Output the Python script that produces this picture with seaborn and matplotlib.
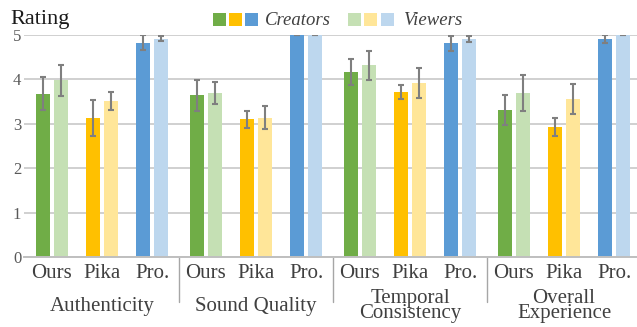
import matplotlib
matplotlib.use("Agg")
import matplotlib.pyplot as plt
from matplotlib.patches import Rectangle
import numpy as np
import pandas as pd
import seaborn as sns

# ---- data ----
metrics = ["Authenticity", "Sound Quality", "Temporal\nConsistency", "Overall\nExperience"]
methods = ["Ours", "Pika", "Pro."]
roles = ["Creators", "Viewers"]

# mean ratings, ordered metric by metric, then Ours / Pika / Pro.
creators_mean = [3.67, 3.13, 4.82,
                 3.64, 3.10, 5.00,
                 4.16, 3.71, 4.81,
                 3.31, 2.93, 4.90]
viewers_mean = [3.97, 3.51, 4.91,
                3.69, 3.13, 5.00,
                4.31, 3.91, 4.90,
                3.69, 3.55, 5.00]
creators_err = [0.37, 0.40, 0.17,
                0.35, 0.19, 0.00,
                0.29, 0.15, 0.17,
                0.33, 0.20, 0.09]
viewers_err = [0.34, 0.20, 0.06,
               0.25, 0.26, 0.00,
               0.33, 0.33, 0.07,
               0.41, 0.33, 0.00]

dark_colors = {"Ours": "#70AD47", "Pika": "#FFC000", "Pro.": "#5B9BD5"}
light_colors = {"Ours": "#C5E0B4", "Pika": "#FFE699", "Pro.": "#BDD7EE"}

GROUP_STEP = 3.08  # a little extra room between metric groups

# ---- long table ----
rows = []
for gi, metric in enumerate(metrics):
    for mi, method in enumerate(methods):
        k = gi * 3 + mi
        pos = gi * GROUP_STEP + mi
        rows.append(dict(pos=pos, metric=metric, method=method, role="Creators",
                         value=creators_mean[k], err=creators_err[k]))
        rows.append(dict(pos=pos, metric=metric, method=method, role="Viewers",
                         value=viewers_mean[k], err=viewers_err[k]))
df = pd.DataFrame(rows)
positions = sorted(df["pos"].unique())

# ---- figure ----
sns.set_theme(style="white")
plt.rcParams["font.family"] = ["Liberation Serif", "DejaVu Serif"]

W, H = 637, 327
AX_LEFT, AX_RIGHT, AX_TOP, AX_BOTTOM = 24, 637, 34.7, 257
fig = plt.figure(figsize=(W / 100, H / 100), dpi=100)
ax = fig.add_axes([AX_LEFT / W, (H - AX_BOTTOM) / H,
                   (AX_RIGHT - AX_LEFT) / W, (AX_BOTTOM - AX_TOP) / H])
ax_h = AX_BOTTOM - AX_TOP

sns.barplot(data=df, x="pos", y="value", hue="role", hue_order=roles,
            native_scale=True, width=0.72, gap=0.22, errorbar=None,
            palette=["#888888", "#cccccc"], legend=False, ax=ax,
            linewidth=0, saturation=1)

# recolour bars by method and draw error bars
for role, container in zip(roles, ax.containers):
    sub = df[df["role"] == role].set_index("pos")
    cmap = dark_colors if role == "Creators" else light_colors
    xs, ys, es = [], [], []
    for bar in container:
        cx = bar.get_x() + bar.get_width() / 2
        p = min(positions, key=lambda q: abs(q - cx))
        row = sub.loc[p]
        bar.set_facecolor(cmap[row["method"]])
        bar.set_edgecolor("none")
        xs.append(cx)
        ys.append(row["value"])
        es.append(row["err"])
    ax.errorbar(xs, ys, yerr=es, fmt="none", ecolor="#7F7F7F",
                elinewidth=1.5, capsize=2.2, capthick=1.5, zorder=5)

# axes styling
ax.set_ylim(0, 5)
ax.set_xlim(-0.56, 11.70)
ax.set_yticks(range(0, 6))
ax.yaxis.grid(True, color="#D0D0D0", linewidth=1.4)
ax.set_axisbelow(True)
for s in ["top", "right", "left"]:
    ax.spines[s].set_visible(False)
ax.spines["bottom"].set_color("#BFBFBF")
ax.spines["bottom"].set_linewidth(1.4)
ax.tick_params(axis="y", length=0, pad=2, labelsize=12, labelcolor="#595959")
ax.tick_params(axis="x", length=0, pad=5, labelsize=15, labelcolor="#404040")
ax.set_xticks(positions)
ax.set_xticklabels([m for _ in metrics for m in methods])
ax.set_xlabel("")
ax.set_ylabel("")

# group separators and metric names below the axis
trans = ax.get_xaxis_transform()
for gi in range(1, len(metrics)):
    xsep = ((gi - 1) * GROUP_STEP + 2 + gi * GROUP_STEP) / 2
    ax.plot([xsep, xsep], [0, -(302 - AX_BOTTOM) / ax_h], transform=trans,
            color="#A6A6A6", linewidth=1.0, clip_on=False)
for gi, metric in enumerate(metrics):
    xc = gi * GROUP_STEP + 1
    if "\n" in metric:
        ax.text(xc, -(318 - AX_BOTTOM) / ax_h, metric, transform=trans,
                ha="center", va="baseline", fontsize=15, color="#404040",
                linespacing=0.72)
    else:
        ax.text(xc, -(311 - AX_BOTTOM) / ax_h, metric, transform=trans,
                ha="center", va="baseline", fontsize=15, color="#404040")

# y-axis title
fig.text(10 / W, 1 - 24 / H, "Rating", fontsize=16, color="#1A1A1A",
         ha="left", va="baseline")

# legend: three swatches per audience
def swatches(x0, cols):
    for i, c in enumerate(cols):
        fig.patches.append(Rectangle(((x0 + i * 16.3) / W, 1 - 26 / H),
                                     13 / W, 13 / H, transform=fig.transFigure,
                                     facecolor=c, edgecolor="none"))

swatches(212.7, [dark_colors[m] for m in methods])
fig.text(265 / W, 1 - 25 / H, "Creators", fontsize=13.5, style="italic",
         color="#404040", ha="left", va="baseline")
swatches(348, [light_colors[m] for m in methods])
fig.text(403 / W, 1 - 25 / H, "Viewers", fontsize=13.5, style="italic",
         color="#404040", ha="left", va="baseline")

fig.savefig("out.png", dpi=100)
